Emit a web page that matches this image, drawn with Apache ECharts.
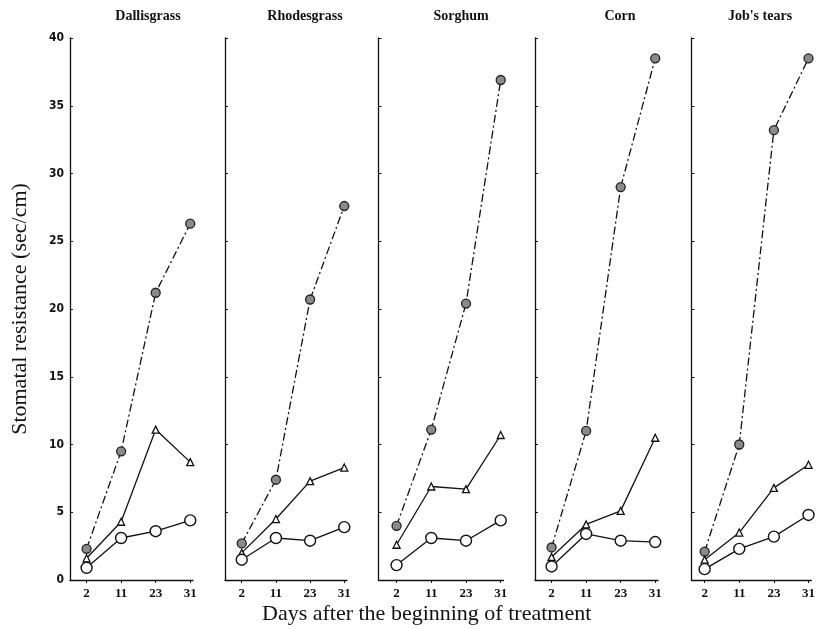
<!DOCTYPE html>
<html>
<head>
<meta charset="utf-8">
<script src="https://cdn.jsdelivr.net/npm/echarts@6/dist/echarts.min.js"></script>
<style>
html,body{margin:0;padding:0;background:#fff;}
#chart{width:818px;height:629px;}
</style>
</head>
<body>
<div id="chart"></div>
<script>
// ---- data ----
const days = ['2', '11', '23', '31'];
const crops = ['Dallisgrass', 'Rhodesgrass', 'Sorghum', 'Corn', "Job's tears"];
const yTicks = [0, 5, 10, 15, 20, 25, 30, 35, 40];

const dallisFilled = [2.3, 9.5, 21.2, 26.3];
const dallisTri    = [1.6, 4.3, 11.1, 8.7];
const dallisOpen   = [0.9, 3.1, 3.6, 4.4];

const rhodesFilled = [2.7, 7.4, 20.7, 27.6];
const rhodesTri    = [2.0, 4.5, 7.3, 8.3];
const rhodesOpen   = [1.5, 3.1, 2.9, 3.9];

const sorghumFilled = [4.0, 11.1, 20.4, 36.9];
const sorghumTri    = [2.6, 6.9, 6.7, 10.7];
const sorghumOpen   = [1.1, 3.1, 2.9, 4.4];

const cornFilled = [2.4, 11.0, 29.0, 38.5];
const cornTri    = [1.7, 4.1, 5.1, 10.5];
const cornOpen   = [1.0, 3.4, 2.9, 2.8];

const jobsFilled = [2.1, 10.0, 33.2, 38.5];
const jobsTri    = [1.5, 3.5, 6.8, 8.5];
const jobsOpen   = [0.8, 2.3, 3.2, 4.8];

const filledSets = [dallisFilled, rhodesFilled, sorghumFilled, cornFilled, jobsFilled];
const triSets    = [dallisTri, rhodesTri, sorghumTri, cornTri, jobsTri];
const openSets   = [dallisOpen, rhodesOpen, sorghumOpen, cornOpen, jobsOpen];

// ---- layout ----
const gridLeft  = [70, 225, 378.5, 535, 691.5];
const gridWidth = [123, 122, 125, 123, 123];
const xMin      = [-0.48, -0.49, -0.52, -0.48, -0.38];
const xMax      = 3.08;
const titleX    = [143, 300, 456, 615, 755];
const gridTop = 38, gridHeight = 542;

const chart = echarts.init(document.getElementById('chart'), null, {renderer: 'canvas'});

const grids = [], xAxes = [], yAxes = [], series = [], titles = [];
const toPts = arr => arr.map((v, i) => [i, v]);

crops.forEach((name, p) => {
  grids.push({left: gridLeft[p], top: gridTop, width: gridWidth[p], height: gridHeight, containLabel: false});
  xAxes.push({
    type: 'value', gridIndex: p, min: xMin[p], max: xMax,
    axisLine: {show: true, onZero: false, lineStyle: {color: '#111', width: 1.3}},
    axisTick: {show: true, inside: false, length: 3, customValues: [0, 1, 2, 3], lineStyle: {color: '#111', width: 1}},
    axisLabel: {
      show: true, customValues: [0, 1, 2, 3], margin: 7,
      formatter: v => days[Math.round(v)],
      fontFamily: 'Liberation Serif', fontWeight: 'bold', fontSize: 13, color: '#111'
    },
    splitLine: {show: false}
  });
  yAxes.push({
    type: 'value', gridIndex: p, min: 0, max: 40, interval: 5,
    axisLine: {show: true, onZero: false, lineStyle: {color: '#111', width: 1.3}},
    axisTick: {show: true, inside: true, length: 3, lineStyle: {color: '#111', width: 1}},
    axisLabel: {
      show: p === 0, margin: 6,
      fontFamily: 'DejaVu Sans Condensed', fontWeight: 'bold', fontSize: 12, color: '#111'
    },
    splitLine: {show: false},
    name: p === 0 ? 'Stomatal resistance (sec/cm)' : '',
    nameLocation: 'middle', nameGap: 39, nameRotate: 90,
    nameTextStyle: {fontFamily: 'Liberation Serif', fontSize: 22, color: '#111'}
  });
  titles.push({
    text: name, left: titleX[p], top: 4, textAlign: 'center',
    textStyle: {fontFamily: 'Liberation Serif', fontWeight: 'bold', fontSize: 14, color: '#111'}
  });
  series.push({
    type: 'line', xAxisIndex: p, yAxisIndex: p, data: toPts(filledSets[p]),
    symbol: 'circle', symbolSize: 9,
    itemStyle: {color: '#8a8a8a', borderColor: '#222', borderWidth: 1.3},
    lineStyle: {color: '#111', width: 1.3, type: [8, 3, 2, 3]},
    z: 3, animation: false
  });
  series.push({
    type: 'line', xAxisIndex: p, yAxisIndex: p, data: toPts(triSets[p]),
    symbol: 'triangle', symbolSize: 7,
    itemStyle: {color: '#fff', borderColor: '#111', borderWidth: 1.3},
    lineStyle: {color: '#111', width: 1.3},
    z: 4, animation: false
  });
  series.push({
    type: 'line', xAxisIndex: p, yAxisIndex: p, data: toPts(openSets[p]),
    symbol: 'circle', symbolSize: 11,
    itemStyle: {color: '#fff', borderColor: '#111', borderWidth: 1.4},
    lineStyle: {color: '#111', width: 1.3},
    z: 5, animation: false
  });
});

chart.setOption({
  backgroundColor: '#fff',
  animation: false,
  title: titles,
  grid: grids,
  xAxis: xAxes,
  yAxis: yAxes,
  series: series,
  graphic: [{
    type: 'text', left: 262, top: 603,
    style: {
      text: 'Days after the beginning of treatment',
      font: '22px "Liberation Serif"', fill: '#111'
    }
  }]
});
</script>
</body>
</html>
